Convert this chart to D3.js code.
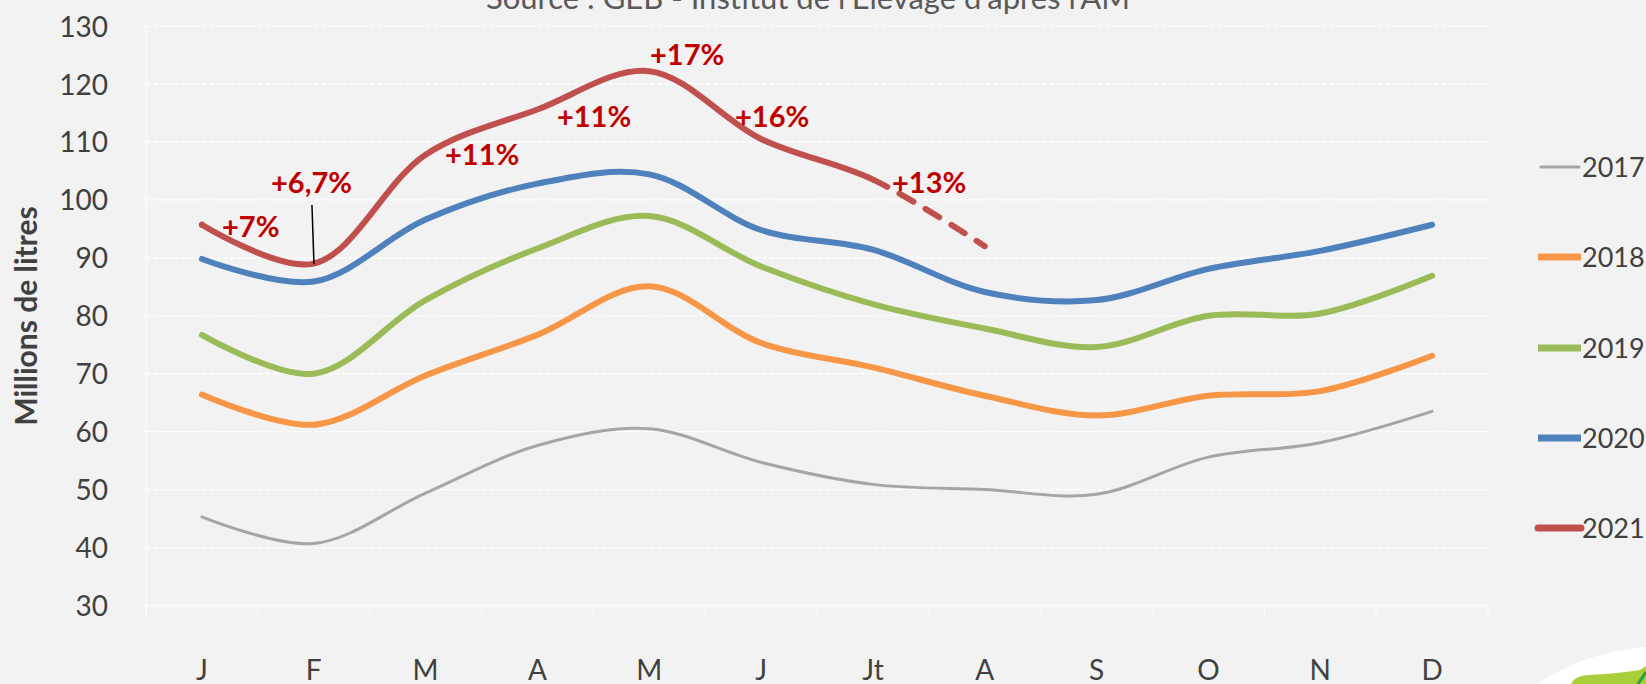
<!DOCTYPE html>
<html>
<head>
<meta charset="utf-8">
<script src="https://cdn.jsdelivr.net/npm/d3@7"></script>
<style>
  html, body { margin: 0; padding: 0; background: #F2F2F2; }
  svg { display: block; }
</style>
</head>
<body>
<svg id="chart" width="1646" height="684"></svg>
<script>
// ---------- DATA ----------
const months = ["J", "F", "M", "A", "M", "J", "Jt", "A", "S", "O", "N", "D"];
const yTicks = [30, 40, 50, 60, 70, 80, 90, 100, 110, 120, 130];
const years = ["2017", "2018", "2019", "2020", "2021"];
const v2017 = [45.3, 40.7, 49.4, 57.6, 60.5, 54.7, 50.9, 50.0, 49.2, 55.6, 58.1, 63.5];
const v2018 = [66.4, 61.2, 69.7, 76.7, 85.1, 75.3, 71.1, 66.2, 62.8, 66.2, 67.0, 73.1];
const v2019 = [76.7, 70.0, 82.7, 91.6, 97.2, 88.5, 82.0, 77.8, 74.6, 80.0, 80.4, 86.9];
const v2020 = [89.8, 85.9, 96.6, 102.8, 104.4, 94.8, 91.4, 84.1, 82.7, 88.1, 91.2, 95.7];
const v2021 = [95.7, 89.0, 107.8, 115.6, 122.2, 110.5, 103.5, 92.0];
const lastSolidIndex2021 = 6; // after "Jt" the 2021 line is an estimate (dashed)
const pctLabels = ["+7%", "+6,7%", "+11%", "+11%", "+17%", "+16%", "+13%"];
const titleText = "Source : GEB - Institut de l'Elevage d'après l'AM";
const yTitle = "Millions de litres";

// ---------- LAYOUT / STYLE ----------
const colors = { "2017": "#A5A5A5", "2018": "#F79646", "2019": "#9BBB59", "2020": "#4F81BD", "2021": "#C0504D" };
const widths = { "2017": 3, "2018": 6, "2019": 6, "2020": 6, "2021": 6 };
const seriesValues = { "2017": v2017, "2018": v2018, "2019": v2019, "2020": v2020, "2021": v2021 };
// label anchors in data units: [month position (0..12 scale), value]
const labelAnchors = [[0.68, 93.6], [1.118, 101.2], [2.674, 106.0], [3.675, 112.6], [4.507, 123.3], [5.267, 112.6], [6.671, 101.2]];
const leader = [[1.484, 99.1], [1.502, 88.9]];

const plot = { left: 146, right: 1488, top: 26, bottom: 605.5 };
const tickFont = "Lato, 'Open Sans', sans-serif";

const svg = d3.select("#chart");
svg.append("rect").attr("width", 1646).attr("height", 684).attr("fill", "#F2F2F2");

const xPos = d3.scaleLinear().domain([0, 12]).range([plot.left, plot.right]);
const xBand = d3.scaleBand().domain(d3.range(12)).range([plot.left, plot.right]).padding(0);
const y = d3.scaleLinear().domain([30, 130]).range([plot.bottom, plot.top]);

// gridlines
svg.append("g")
  .selectAll("line").data(yTicks.filter(d => d > 30)).join("line")
  .attr("x1", plot.left).attr("x2", plot.right)
  .attr("y1", d => y(d)).attr("y2", d => y(d))
  .attr("stroke", "#FFFFFF").attr("stroke-width", 1.2).attr("stroke-dasharray", "5,2");

// y axis (labels)
const yAxis = d3.axisLeft(y).tickValues(yTicks).tickSize(0).tickPadding(0);
const gy = svg.append("g").attr("transform", `translate(${plot.left - 38},0)`).call(yAxis);
gy.select(".domain").remove();
gy.selectAll("text").attr("font-family", tickFont).attr("font-size", 28).attr("fill", "#404040").attr("dy", "0.36em");
// y axis line
svg.append("line").attr("x1", plot.left).attr("x2", plot.left).attr("y1", plot.top).attr("y2", plot.bottom + 10)
  .attr("stroke", "#FAFAFA").attr("stroke-width", 1.5);

// x axis
const xAxis = d3.axisBottom(xBand).tickSize(0).tickFormat(i => months[i]);
const gx = svg.append("g").attr("transform", `translate(0,${plot.bottom})`).call(xAxis);
gx.select(".domain").remove();
gx.selectAll("text").attr("font-family", tickFont).attr("font-size", 28).attr("fill", "#404040")
  .attr("y", 0).attr("dy", 0).attr("transform", "translate(0,74)");
svg.append("line").attr("x1", plot.left).attr("x2", plot.right).attr("y1", plot.bottom).attr("y2", plot.bottom)
  .attr("stroke", "#FAFAFA").attr("stroke-width", 2);
svg.append("g").selectAll("line").data(d3.range(13)).join("line")
  .attr("x1", d => xPos(d)).attr("x2", d => xPos(d))
  .attr("y1", plot.bottom).attr("y2", plot.bottom + 10)
  .attr("stroke", "#FAFAFA").attr("stroke-width", 1.5);

// title (partially clipped at top, as in the source image)
svg.append("text").attr("x", 808).attr("y", 9).attr("text-anchor", "middle")
  .attr("font-family", "Lato, 'Open Sans', sans-serif").attr("font-size", 31).attr("fill", "#595959")
  .text(titleText);

// y title
svg.append("text").attr("transform", "translate(37,316) rotate(-90)").attr("text-anchor", "middle")
  .attr("font-family", "Lato, 'Open Sans', sans-serif").attr("font-weight", "bold").attr("font-size", 30)
  .attr("fill", "#404040").text(yTitle);

// lines
const line = d3.line().x((d, i) => xBand(i) + xBand.bandwidth() / 2).y(d => y(d)).curve(d3.curveCatmullRom.alpha(0.5));

const defs = svg.append("defs");
const xSplit = xBand(lastSolidIndex2021) + xBand.bandwidth() / 2;
defs.append("clipPath").attr("id", "clipSolid").append("rect").attr("x", 0).attr("y", 0).attr("width", xSplit).attr("height", 684);

years.forEach(yr => {
  if (yr !== "2021") {
    svg.append("path").datum(seriesValues[yr]).attr("d", line)
      .attr("fill", "none").attr("stroke", colors[yr]).attr("stroke-width", widths[yr])
      .attr("stroke-linecap", "round").attr("stroke-linejoin", "round");
  }
});
// 2021: solid up to Jt, dashed after
svg.append("path").datum(v2021).attr("d", line).attr("clip-path", "url(#clipSolid)")
  .attr("fill", "none").attr("stroke", colors["2021"]).attr("stroke-width", widths["2021"])
  .attr("stroke-linecap", "round").attr("stroke-linejoin", "round");
const dashPath = svg.append("path").datum(v2021).attr("d", line)
  .attr("fill", "none").attr("stroke", colors["2021"]).attr("stroke-width", widths["2021"])
  .attr("stroke-linecap", "round").attr("stroke-linejoin", "round");
(function () {
  const node = dashPath.node();
  const total = node.getTotalLength();
  let lo = 0, hi = total;
  for (let k = 0; k < 40; k++) {
    const mid = (lo + hi) / 2;
    if (node.getPointAtLength(mid).x < xSplit) lo = mid; else hi = mid;
  }
  const segLen = total - lo;
  const pattern = [0, lo];
  let acc = 0;
  while (acc < segLen + 40) { pattern.push(16, 14); acc += 30; }
  dashPath.attr("stroke-dasharray", pattern.join(","));
})();

// percentage labels
svg.append("g").selectAll("text").data(pctLabels).join("text")
  .attr("x", (d, i) => xPos(labelAnchors[i][0]))
  .attr("y", (d, i) => y(labelAnchors[i][1]))
  .attr("font-family", "Lato, 'Open Sans', sans-serif").attr("font-weight", "bold").attr("font-size", 29)
  .attr("fill", "#C00000").text(d => d);

// leader line for +6,7%
svg.append("line")
  .attr("x1", xPos(leader[0][0])).attr("y1", y(leader[0][1]))
  .attr("x2", xPos(leader[1][0])).attr("y2", y(leader[1][1]))
  .attr("stroke", "#000000").attr("stroke-width", 1.5);

// legend
const legendY = [167, 257, 348, 438, 528];
const lg = svg.append("g");
years.forEach((yr, i) => {
  const g = lg.append("g").attr("transform", `translate(0,${legendY[i]})`);
  g.append("line").attr("x1", yr === "2017" ? 1541 : 1538).attr("x2", yr === "2017" ? 1579 : 1581)
    .attr("y1", 0).attr("y2", 0)
    .attr("stroke", colors[yr]).attr("stroke-width", widths[yr] + (yr === "2017" ? 0 : 1))
    .attr("stroke-linecap", yr === "2017" || yr === "2021" ? "round" : "butt");
  g.append("text").attr("x", 1582).attr("y", 0).attr("dy", "0.36em")
    .attr("font-family", tickFont).attr("font-size", 27).attr("fill", "#404040").text(yr);
});

// corner logo fragment
svg.append("path").attr("d", "M1537,684 Q1585,652 1646,647 L1646,684 Z").attr("fill", "#FFFFFF");
svg.append("path").attr("d", "M1571,684 Q1574,676 1588,675 Q1615,674 1640,670 L1646,666 L1646,684 Z").attr("fill", "#A8CF3A");
svg.append("path").attr("d", "M1638,684 Q1642,678 1646,672").attr("stroke", "#2E9E44").attr("stroke-width", 3).attr("fill", "none");
</script>
</body>
</html>
